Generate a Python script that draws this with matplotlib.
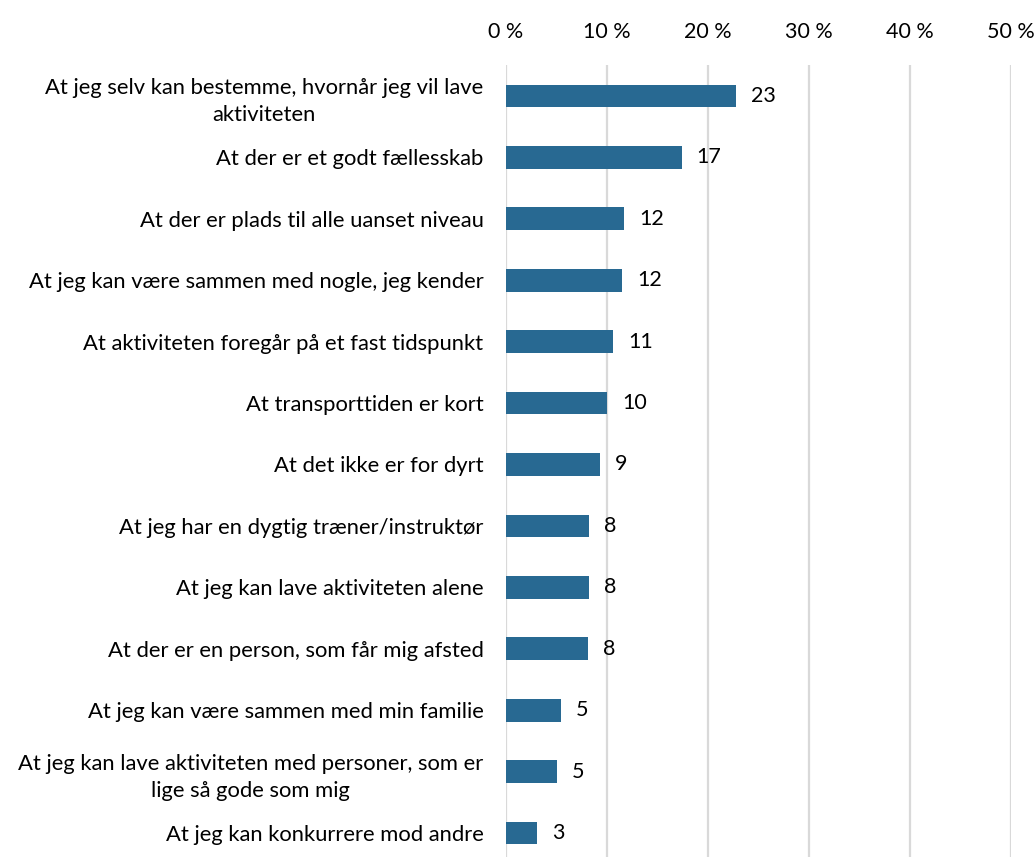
import matplotlib
matplotlib.use("Agg")
import matplotlib.pyplot as plt

categories = [
    "At jeg selv kan bestemme, hvornår jeg vil lave\naktiviteten",
    "At der er et godt fællesskab",
    "At der er plads til alle uanset niveau",
    "At jeg kan være sammen med nogle, jeg kender",
    "At aktiviteten foregår på et fast tidspunkt",
    "At transporttiden er kort",
    "At det ikke er for dyrt",
    "At jeg har en dygtig træner/instruktør",
    "At jeg kan lave aktiviteten alene",
    "At der er en person, som får mig afsted",
    "At jeg kan være sammen med min familie",
    "At jeg kan lave aktiviteten med personer, som er\nlige så gode som mig",
    "At jeg kan konkurrere mod andre",
]
values = [22.75, 17.4, 11.7, 11.5, 10.6, 10.0, 9.3, 8.2, 8.2, 8.1, 5.45, 5.05, 3.1]
tick_values = [0, 10, 20, 30, 40, 50]
tick_labels = ["0 %", "10 %", "20 %", "30 %", "40 %", "50 %"]

plt.rcParams['font.family'] = ['Lato', 'DejaVu Sans']

fig = plt.figure(figsize=(10.36, 8.57), dpi=100)
ax = fig.add_axes([505.7/1036, 1 - 863.7/857, (1011 - 505.7)/1036, (863.7 - 65.3)/857])

y = list(range(len(categories)))
ax.barh(y, values, height=0.37, color="#286992", zorder=3)
for yi, v in zip(y, values):
    ax.text(v + 1.5, yi, f"{v:.0f}", va="center", ha="left", fontsize=15.5, color="black")

ax.set_xlim(0, 50)
ax.set_ylim(len(categories) - 0.5, -0.5)
ax.set_xticks(tick_values)
ax.set_xticklabels(tick_labels, fontsize=15.5)
ax.xaxis.tick_top()
ax.tick_params(axis="x", length=0, pad=17)
ax.set_yticks(y)
ax.set_yticklabels(categories, fontsize=15.8, multialignment="center", linespacing=1.45)
ax.tick_params(axis="y", length=0, pad=16)
ax.grid(axis="x", color="#d9d9d9", linewidth=1.6, zorder=0)
for s in ax.spines.values():
    s.set_visible(False)

fig.savefig("out.png", dpi=100)
